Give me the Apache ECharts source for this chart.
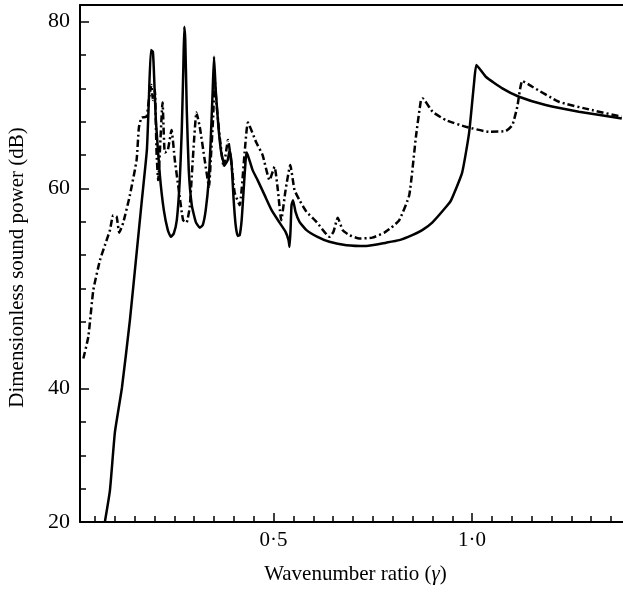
<!DOCTYPE html>
<html>
<head>
<meta charset="utf-8">
<script src="https://cdn.jsdelivr.net/npm/echarts@6/dist/echarts.min.js"></script>
<style>html,body{margin:0;padding:0;background:#fff}#c{width:623px;height:592px}</style>
</head>
<body>
<div id="c"></div>
<script>
// Solid curve (wavenumber ratio, dB)
const solidX = [0.0754,0.0879,0.1005,0.1181,0.1382,0.1558,0.1683,0.1809,0.1859,0.1910,
  0.1960,0.1985,0.2035,0.2136,0.2236,0.2337,0.2412,0.2487,0.2563,0.2638,
  0.2688,0.2726,0.2751,0.2776,0.2814,0.2864,0.2940,0.3040,0.3141,0.3216,
  0.3291,0.3367,0.3417,0.3467,0.3500,0.3543,0.3618,0.3693,0.3769,0.3844,
  0.3894,0.3945,0.3995,0.4045,0.4095,0.4146,0.4196,0.4246,0.4296,0.4322,
  0.4372,0.4472,0.4598,0.4774,0.4950,0.5151,0.5302,0.5377,0.5402,0.5427,
  0.5452,0.5490,0.5553,0.5653,0.5829,0.6106,0.6407,0.6834,0.7337,0.7839,
  0.8166,0.8492,0.8744,0.8995,0.9347,0.9472,0.9749,0.9925,1.0050,1.0108,
  1.0344,1.0761,1.1181,1.1852,1.2688,1.3769];
const solidY = [20.1,23.8,30.8,36.1,44.2,52.6,58.6,64.6,70.6,76.6,
  76.4,74.2,68.2,61.6,57.4,55.0,54.2,54.6,56.2,61.0,
  67.0,74.2,79.4,77.8,69.4,62.2,58.0,56.0,55.3,55.6,
  57.4,61.0,65.8,71.8,75.8,71.8,67.0,64.0,62.8,63.4,
  64.6,62.8,58.6,55.6,54.3,54.4,56.2,59.8,63.4,64.3,
  63.7,62.2,61.0,59.2,57.4,55.9,54.8,53.8,53.0,55.0,
  58.0,58.6,57.2,56.0,55.0,54.2,53.6,53.2,53.1,53.5,
  53.8,54.4,55.0,55.9,57.8,58.6,61.9,66.7,72.7,74.8,
  73.4,72.0,71.0,70.0,69.2,68.4];

// Dash-dot curve
const dashX = [0.0209,0.0334,0.0460,0.0628,0.0796,0.0879,0.0962,0.1048,0.1113,0.1214,
  0.1382,0.1550,0.1608,0.1676,0.1801,0.1859,0.1922,0.1960,0.2010,0.2053,
  0.2093,0.2204,0.2261,0.2337,0.2430,0.2513,0.2613,0.2721,0.2807,0.2889,
  0.2965,0.3058,0.3141,0.3266,0.3374,0.3417,0.3475,0.3518,0.3560,0.3643,
  0.3744,0.3852,0.3937,0.4020,0.4146,0.4271,0.4354,0.4565,0.4724,0.4899,
  0.5025,0.5108,0.5193,0.5302,0.5420,0.5528,0.5653,0.5829,0.6080,0.6407,
  0.6508,0.6616,0.6741,0.6910,0.7161,0.7487,0.7789,0.7965,0.8166,0.8417,
  0.8585,0.8711,0.8751,0.9003,0.9339,0.9842,1.0427,1.0847,1.1013,1.1138,
  1.1264,1.1515,1.2186,1.3015,1.3769];
const dashY = [39.6,42.2,47.8,51.4,53.8,55.0,56.8,56.6,54.7,55.9,
  59.2,63.4,67.3,68.5,68.6,70.6,72.4,70.6,71.8,64.3,
  61.0,70.3,64.3,64.6,67.0,63.4,59.8,56.2,55.9,57.8,
  63.4,69.1,67.4,63.4,60.2,63.4,68.2,73.0,70.3,66.2,
  62.6,65.8,63.1,59.5,58.0,64.3,67.9,65.5,64.0,61.0,
  62.6,59.8,56.2,59.8,62.8,59.8,58.6,57.2,56.0,54.2,
  54.8,56.5,55.0,54.4,54.0,54.1,54.7,55.3,56.2,59.2,
  66.2,70.6,70.8,69.2,68.2,67.4,66.8,66.9,67.6,69.8,
  72.9,72.2,70.4,69.4,68.6];

// Axis ticks and labels
const xMinorTicks = [0.05,0.10,0.15,0.20,0.25,0.30,0.35,0.40,0.45,0.55,0.60,0.65,0.70,0.75,0.80,0.85,0.90,0.95,1.05,1.10,1.15,1.20,1.25,1.30,1.35];
const xLabelValues = [0.5, 1.0];
const xLabelTexts = ['0·5', '1·0'];
const yMinorTicks = [24,28,32,44,48,52,56,64,68,72,76];
// the reference places its "40" label on the tick at 36 (axis is linear 20..80, 4 dB per tick)
const yLabelValues = [20, 36, 60, 80];
const yLabelTexts = ['20', '40', '60', '80'];

const X_MIN = 0.0125, X_MAX = 1.38, Y_MIN = 20, Y_MAX = 82;
const FONT = "'Liberation Serif', 'DejaVu Serif', serif";

function zip(xs, ys) { return xs.map((x, i) => [x, ys[i]]); }
function pick(vals, texts, v) {
  for (let i = 0; i < vals.length; i++) if (Math.abs(vals[i] - v) < 1e-9) return texts[i];
  return '';
}

const chart = echarts.init(document.getElementById('c'), null, {renderer: 'canvas'});
const axisLine = {show: true, lineStyle: {color: '#000', width: 2}};
chart.setOption({
  backgroundColor: '#fff',
  animation: false,
  grid: {left: 80, right: 0, top: 5, bottom: 70, outerBoundsMode: 'none'},
  xAxis: [
    {type: 'value', min: X_MIN, max: X_MAX, position: 'bottom',
     axisLine: axisLine,
     axisTick: {show: true, inside: true, length: 6, customValues: xMinorTicks, lineStyle: {color: '#000', width: 1.5}},
     axisLabel: {show: false}, splitLine: {show: false}},
    {type: 'value', min: X_MIN, max: X_MAX, position: 'bottom',
     axisLine: {show: false},
     axisTick: {show: true, inside: true, length: 9, customValues: xLabelValues, lineStyle: {color: '#000', width: 1.5}},
     axisLabel: {show: true, customValues: xLabelValues, formatter: v => pick(xLabelValues, xLabelTexts, v),
                 color: '#000', fontFamily: FONT, fontSize: 21, margin: 8},
     splitLine: {show: false},
     name: 'Wavenumber ratio ({i|γ})', nameLocation: 'middle', nameGap: 42,
     nameTextStyle: {color: '#000', fontFamily: FONT, fontSize: 21, padding: [0, 0, 0, 8],
                     rich: {i: {fontStyle: 'italic', fontFamily: FONT, fontSize: 21, color: '#000'}}}},
    {type: 'value', min: X_MIN, max: X_MAX, position: 'top',
     axisLine: axisLine, axisTick: {show: false}, axisLabel: {show: false}, splitLine: {show: false}}
  ],
  yAxis: [
    {type: 'value', min: Y_MIN, max: Y_MAX, position: 'left',
     axisLine: axisLine,
     axisTick: {show: true, inside: true, length: 6, customValues: yMinorTicks, lineStyle: {color: '#000', width: 1.5}},
     axisLabel: {show: false}, splitLine: {show: false}},
    {type: 'value', min: Y_MIN, max: Y_MAX, position: 'left',
     axisLine: {show: false},
     axisTick: {show: true, inside: true, length: 9, customValues: yLabelValues, lineStyle: {color: '#000', width: 1.5}},
     axisLabel: {show: true, customValues: yLabelValues, formatter: v => pick(yLabelValues, yLabelTexts, v),
                 color: '#000', fontFamily: FONT, fontSize: 22, margin: 10},
     splitLine: {show: false},
     name: 'Dimensionless sound power (dB)', nameLocation: 'middle', nameGap: 52, nameRotate: 90,
     nameTextStyle: {color: '#000', fontFamily: FONT, fontSize: 21, padding: [0, 8, 0, 0]}}
  ],
  series: [
    {type: 'line', name: 'solid', xAxisIndex: 0, yAxisIndex: 0, data: zip(solidX, solidY),
     smooth: 0.15,
     showSymbol: false, symbol: 'none', lineStyle: {color: '#000', width: 2.5, type: 'solid'}, z: 3},
    {type: 'line', name: 'dashdot', xAxisIndex: 0, yAxisIndex: 0, data: zip(dashX, dashY),
     smooth: 0.15,
     showSymbol: false, symbol: 'none', lineStyle: {color: '#000', width: 2.5, type: [7, 3, 2, 3]}, z: 2}
  ]
});
</script>
</body>
</html>
